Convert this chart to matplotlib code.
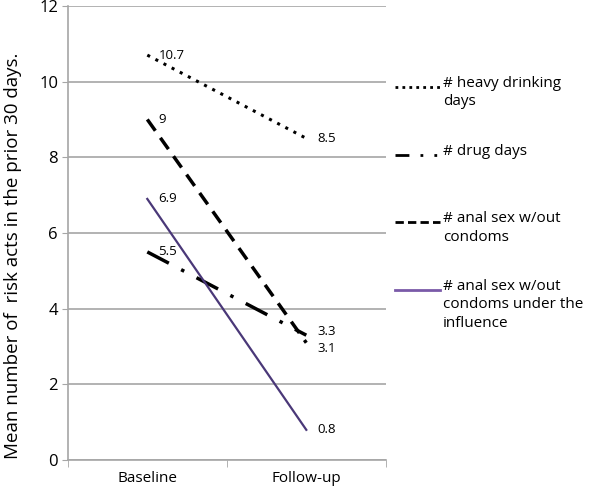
import matplotlib.pyplot as plt

plt.rcParams["font.family"] = ["Open Sans", "DejaVu Sans"]

periods = ["Baseline", "Follow-up"]
heavy_drinking = [10.7, 8.5]
drug_days = [5.5, 3.3]
anal_sex = [9, 3.1]
anal_sex_influence = [6.9, 0.8]

labels = [
    "# heavy drinking\ndays",
    "# drug days",
    "# anal sex w/out\ncondoms",
    "# anal sex w/out\ncondoms under the\ninfluence",
]

fig = plt.figure(figsize=(6, 4.9), dpi=100)
ax = fig.add_axes([0.113, 0.061, 0.53, 0.927])

x = [0, 1]
styles = [
    dict(color="black", linestyle=(0, (1, 2)), linewidth=2.2),
    dict(color="black", linestyle=(0, (7, 4, 1, 4)), linewidth=2.5),
    dict(color="black", linestyle=(0, (4, 2.5)), linewidth=2.5),
    dict(color="#4a3878", linewidth=1.6),
]
series_list = [heavy_drinking, drug_days, anal_sex, anal_sex_influence]

for series, st in zip(series_list, styles):
    ax.plot(x, series, **st)
    for xi, v in zip(x, series):
        dy = 0
        if v == 3.3:
            dy = 3
        elif v == 3.1:
            dy = -4
        ax.annotate(f"{v:g}", (xi, v), xytext=(8, dy), textcoords="offset points",
                    ha="left", va="center", fontsize=9.5, color="black")

grey = "#a6a6a6"
ax.set_xlim(-0.5, 1.5)
ax.set_ylim(0, 12)
ax.set_yticks(range(0, 13, 2))
ax.set_xticks(x)
ax.set_xticklabels(periods)
ax.set_xticks([-0.5, 0.5, 1.5], minor=True)
ax.tick_params(axis="x", which="major", length=0, labelsize=11, pad=8)
ax.tick_params(axis="x", which="minor", length=5, color=grey, direction="out")
ax.tick_params(axis="y", length=4, color=grey, labelsize=12, pad=3)

ax.grid(True, axis="y", which="major", color=grey, linewidth=1.2)
for side in ["top", "right"]:
    ax.spines[side].set_visible(False)
for side in ["left", "bottom"]:
    ax.spines[side].set_color(grey)
    ax.spines[side].set_linewidth(1.2)

ax.set_ylabel("Mean number of  risk acts in the prior 30 days.", fontsize=13.5)
ax.yaxis.set_label_coords(-0.145, 0.45)

# legend entries, Excel-style: handle aligned with the first text line
leg_styles = [
    dict(color="black", linestyle=(0, (1, 1.5)), linewidth=2),
    dict(color="black", linestyle=(0, (5, 4, 1, 4, 1, 4)), linewidth=2),
    dict(color="black", linestyle=(0, (3, 1.5)), linewidth=2),
    dict(color="#7a5aa8", linewidth=2),
]
y0, step = 0.8216, 0.149
for i, (lab, st) in enumerate(zip(labels, leg_styles)):
    yy = y0 - i * step
    ax.plot([1.028, 1.17], [yy, yy], transform=ax.transAxes, clip_on=False, **st)
    ax.text(1.179, yy + 0.024, lab, transform=ax.transAxes, ha="left", va="top",
            fontsize=11, linespacing=1.3, clip_on=False)

fig.savefig("out.png", dpi=100)
